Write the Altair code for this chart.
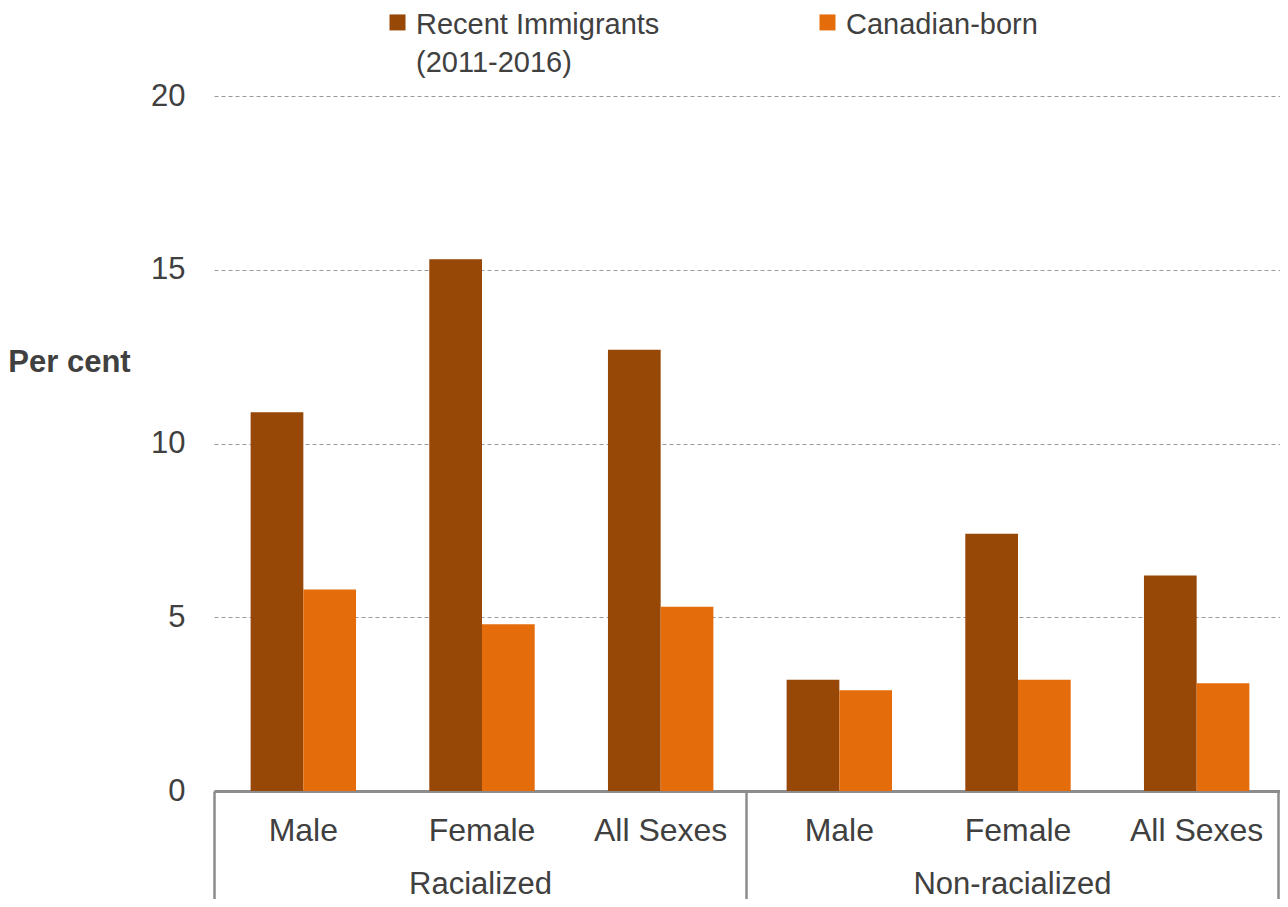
import altair as alt
import pandas as pd

# ---- data ----
groups = ["Racialized", "Racialized", "Racialized",
          "Non-racialized", "Non-racialized", "Non-racialized"]
sexes = ["Male", "Female", "All Sexes", "Male", "Female", "All Sexes"]
recent_immigrants = [10.9, 15.3, 12.7, 3.2, 7.4, 6.2]
canadian_born = [5.8, 4.8, 5.3, 2.9, 3.2, 3.1]
series = ["Recent Immigrants (2011-2016)", "Canadian-born"]
series_colors = ["#974706", "#E46C0A"]
group_order = ["Racialized", "Non-racialized"]
period_note = ["(2011-2016)"]
y_ticks = [0, 5, 10, 15, 20]

rows = []
for g, s, a, b in zip(groups, sexes, recent_immigrants, canadian_born):
    key = f"{g}|{s}"
    rows.append({"group": g, "sex": s, "key": key, "series": series[0], "value": a})
    rows.append({"group": g, "sex": s, "key": key, "series": series[1], "value": b})
df = pd.DataFrame(rows)
df["period"] = period_note[0]
keys = [f"{g}|{s}" for g, s in zip(groups, sexes)]

FONT = "Liberation Sans"
TXT = "#404040"
AX = "#8c8c8c"
LEG_FS = 29

LEG_X = 169
LEG_Y = -86
LEG_Y2 = -48

bars = alt.Chart(df).mark_bar().encode(
    x=alt.X(
        "key:N",
        sort=keys,
        scale=alt.Scale(domain=keys, range=[0, 1072], paddingInner=0.41, paddingOuter=0.205),
        axis=alt.Axis(
            title=None,
            labelExpr="split(datum.label, '|')[1]",
            labelAngle=0,
            labelFontSize=32,
            labelFont=FONT,
            labelColor=TXT,
            labelPadding=24,
            labelBaseline="top",
            labelLimit=400,
            ticks=False,
            grid=False,
            domain=True,
            domainColor=AX,
            domainWidth=3,
        ),
    ),
    xOffset=alt.XOffset(
        "series:N",
        sort=series,
        scale=alt.Scale(domain=series, paddingInner=0, paddingOuter=0),
    ),
    y=alt.Y(
        "value:Q",
        scale=alt.Scale(domain=[0, 20], nice=False),
        axis=alt.Axis(
            values=y_ticks,
            title="Per cent",
            titleAngle=0,
            titleAlign="center",
            titleBaseline="middle",
            titleX=-145,
            titleY=266,
            titleFontSize=31,
            titleFont=FONT,
            titleFontWeight="bold",
            titleColor=TXT,
            labelFontSize=31,
            labelFont=FONT,
            labelColor=TXT,
            labelPadding=29,
            domain=False,
            ticks=False,
            grid=True,
            gridColor="#9a9a9a",
            gridDash=[4, 3],
            gridWidth=1,
        ),
    ),
    color=alt.Color(
        "series:N",
        sort=series,
        scale=alt.Scale(domain=series, range=series_colors),
        legend=alt.Legend(
            title=None,
            orient="none",
            direction="horizontal",
            legendX=LEG_X,
            legendY=LEG_Y,
            symbolType="M-1,-1.29H1V0.71H-1Z",
            symbolSize=256,
            symbolStrokeWidth=0,
            labelFontSize=LEG_FS,
            labelFont=FONT,
            labelColor=TXT,
            labelBaseline="middle",
            labelOffset=4,
            labelLimit=500,
            columnPadding=153,
            labelExpr="datum.label == 'Recent Immigrants (2011-2016)' ? 'Recent Immigrants' : datum.label",
        ),
    ),
)

grp = alt.Chart(df).mark_point(opacity=0).encode(
    x=alt.X(
        "group:N",
        sort=group_order,
        scale=alt.Scale(type="band", domain=group_order, paddingInner=0, paddingOuter=0),
        axis=alt.Axis(
            orient="bottom",
            title=None,
            labelAngle=0,
            tickBand="extent",
            ticks=True,
            tickSize=116,
            tickWidth=2.5,
            tickColor=AX,
            domain=False,
            grid=False,
            labelPadding=-14,
            labelBaseline="alphabetic",
            labelFontSize=31,
            labelFont=FONT,
            labelColor=TXT,
            labelLimit=500,
        ),
    ),
    y=alt.value(0),
    shape=alt.Shape(
        "period:N",
        legend=alt.Legend(
            title=None,
            orient="none",
            legendX=LEG_X,
            legendY=LEG_Y2,
            symbolSize=256,
            symbolOpacity=0,
            symbolStrokeWidth=0,
            labelFontSize=LEG_FS,
            labelFont=FONT,
            labelColor=TXT,
            labelBaseline="middle",
            labelOffset=4,
            labelLimit=500,
        ),
    ),
)

chart = (
    alt.layer(bars, grp)
    .resolve_scale(x="independent")
    .properties(
        width=1064,
        height=695,
        padding={"left": 206, "top": 88, "right": 2, "bottom": 108},
        autosize="none",
        background="white",
    )
    .configure_view(stroke=None)
)

chart.save("out.html", embed_options={"renderer": "svg", "actions": False})
